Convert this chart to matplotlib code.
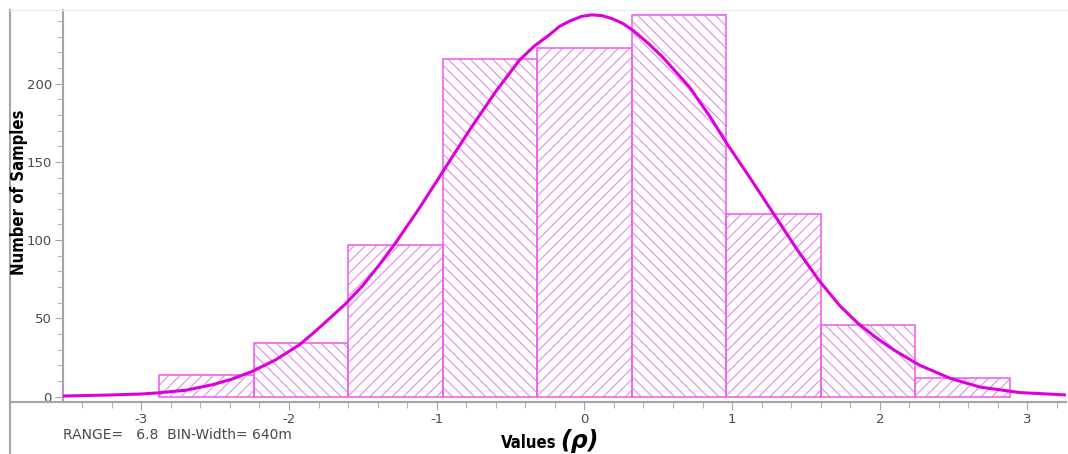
import numpy as np
import matplotlib.pyplot as plt
from matplotlib.lines import Line2D
from matplotlib.ticker import MultipleLocator

# histogram bins (bin width 0.64, centred on 0)
bin_left = [-2.88, -2.24, -1.60, -0.96, -0.32, 0.32, 0.96, 1.60, 2.24]
counts = [14, 34, 97, 216, 223, 244, 117, 46, 12]
hatches = ['///', '\\\\\\', '///', '\\\\\\', '///', '\\\\\\', '///', '\\\\\\', '///']
bin_width = 0.64

# fitted curve
curve_x = [-3.53, -3.2, -3.0, -2.89, -2.70, -2.52, -2.39, -2.25, -2.09, -1.93,
           -1.83, -1.73, -1.62, -1.50, -1.39, -1.28, -1.12, -0.95, -0.78, -0.60,
           -0.44, -0.34, -0.24, -0.17, -0.10, -0.02, 0.05, 0.12, 0.19, 0.26,
           0.33, 0.43, 0.53, 0.71, 0.85, 0.97, 1.12, 1.28, 1.44, 1.59,
           1.73, 1.85, 1.97, 2.10, 2.27, 2.48, 2.68, 2.95, 3.26]
curve_y = [0.3, 1, 1.6, 2.3, 4, 7.5, 11, 16, 23.5, 33,
           41, 49.5, 59, 71, 84, 98, 120, 145, 170, 195,
           215, 224, 231, 236.5, 240, 243, 244, 243.5, 241.5, 238.5,
           234, 226, 217, 198, 179, 161, 140, 117, 94, 74,
           58, 47, 38, 29.5, 20, 11.5, 6, 2.5, 1]

xticks = [-3, -2, -1, 0, 1, 2, 3]
yticks = [0, 50, 100, 150, 200]

axis_col = '#ab9fb0'
label_col = '#4a4a4a'

plt.rcParams['hatch.linewidth'] = 0.9

fig = plt.figure(figsize=(10.68, 4.54), dpi=100)
ax = fig.add_axes([0.059, 0.1156, 0.939, 0.862])

# hatched fill, then the magenta outline on top
for xl, c, h in zip(bin_left, counts, hatches):
    ax.bar(xl, c, width=bin_width, align='edge', color='none',
           edgecolor='#e796e7', linewidth=0, hatch=h)
ax.bar(bin_left, counts, width=bin_width, align='edge', color='none',
       edgecolor='#f062f0', linewidth=1.2)

ax.plot(curve_x, curve_y, color='#dd00dd', linewidth=2.2, zorder=5,
        solid_joinstyle='round')

ax.set_xlim(-3.53, 3.26)
ax.set_ylim(-3.2, 247)

ax.spines['top'].set_visible(False)
ax.spines['right'].set_visible(False)
ax.spines['left'].set_color(axis_col)
ax.spines['bottom'].set_color(axis_col)
ax.spines['left'].set_linewidth(1.5)
ax.spines['bottom'].set_linewidth(1.5)

ax.set_xticks(xticks)
ax.set_xticklabels([str(t) for t in xticks])
ax.set_yticks(yticks)
ax.xaxis.set_minor_locator(MultipleLocator(0.2))
ax.yaxis.set_minor_locator(MultipleLocator(10))
ax.tick_params(axis='both', which='major', direction='out', length=6,
               color=axis_col, labelcolor=label_col, labelsize=9.5)
ax.tick_params(axis='both', which='minor', direction='out', length=4,
               color=axis_col)
ax.tick_params(axis='x', pad=2)
ax.tick_params(axis='y', pad=2)

# outer frame bits
fig.add_artist(Line2D([10 / 1068, 10 / 1068], [0, 1 - 10 / 454],
                      transform=fig.transFigure, color=axis_col, lw=1.5))
fig.add_artist(Line2D([10 / 1068, 0.06], [0.1156, 0.1156],
                      transform=fig.transFigure, color=axis_col, lw=1.5))
fig.add_artist(Line2D([10 / 1068, 1], [1 - 10 / 454, 1 - 10 / 454],
                      transform=fig.transFigure, color='#eeeeee', lw=1))

narrow = ['Liberation Sans Narrow', 'DejaVu Sans']
fig.text(19 / 1068, 1 - 192 / 454, 'Number of Samples', rotation=90,
         ha='center', va='center', fontsize=12, fontweight='bold',
         fontstretch='condensed', family=narrow, color='black')
fig.text(557 / 1068, 1 - 448 / 454, 'Values', ha='right', va='baseline',
         fontsize=12, fontweight='bold', fontstretch='condensed',
         family=narrow, color='black')
fig.text(560 / 1068, 1 - 448 / 454, '(\u03c1)', ha='left', va='baseline',
         fontsize=17, fontstyle='italic', fontweight='bold', family=narrow,
         color='black')
fig.text(63 / 1068, 1 - 435 / 454, 'RANGE=   6.8  BIN-Width= 640m',
         ha='left', va='center', fontsize=10, color=label_col)

fig.savefig('out.png', dpi=100)
